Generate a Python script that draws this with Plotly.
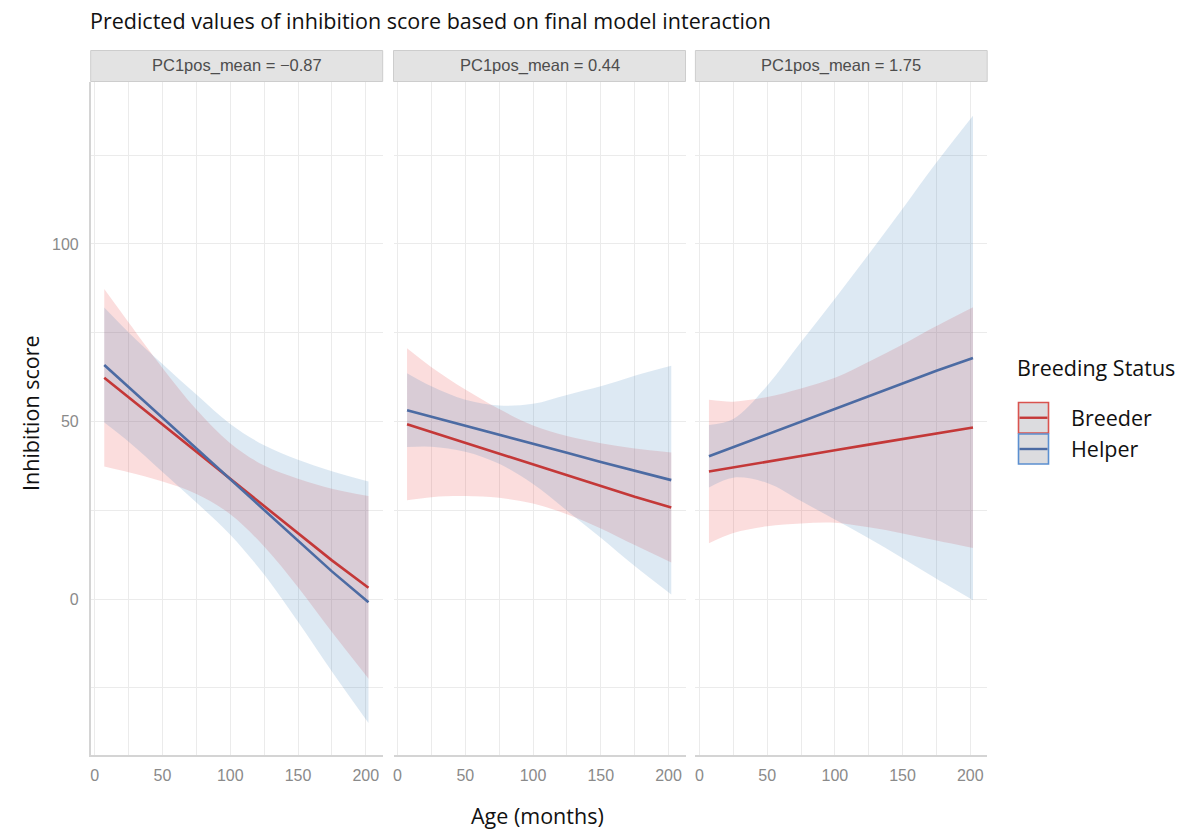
import plotly.graph_objects as go

# ---------------- data ----------------
panels = ["PC1pos_mean = \u22120.87", "PC1pos_mean = 0.44", "PC1pos_mean = 1.75"]
age = [7, 25, 50, 75, 100, 125, 150, 175, 202]

# Panel 1 (PC1pos_mean = -0.87)
p1_breeder = [62.3, 56.8, 49.1, 41.5, 33.9, 26.2, 18.6, 10.9, 3.2]
p1_breeder_lo = [37.3, 35.7, 33.1, 29.6, 23.9, 14.8, 3.3, -9.3, -22.4]
p1_breeder_hi = [87.3, 77.9, 65.1, 53.4, 43.9, 37.6, 33.9, 31.1, 29.0]
p1_helper = [65.9, 59.7, 51.0, 42.4, 33.7, 25.1, 16.4, 7.8, -0.9]
p1_helper_lo = [49.7, 44.3, 35.8, 27.2, 18.1, 6.9, -6.4, -20.4, -34.9]
p1_helper_hi = [82.1, 75.1, 66.2, 57.6, 49.3, 43.3, 39.2, 36.0, 33.1]

# Panel 2 (PC1pos_mean = 0.44)
p2_breeder = [49.2, 47.0, 44.0, 41.0, 37.9, 34.9, 31.9, 28.8, 25.8]
p2_breeder_lo = [27.8, 28.7, 29.0, 28.5, 26.9, 23.9, 19.9, 15.2, 10.3]
p2_breeder_hi = [70.6, 65.3, 59.0, 53.5, 48.9, 45.9, 43.9, 42.4, 41.3]
p2_helper = [53.2, 51.4, 48.8, 46.3, 43.7, 41.2, 38.6, 36.1, 33.5]
p2_helper_lo = [42.8, 42.9, 41.5, 38.1, 32.4, 24.9, 17.3, 9.3, 1.3]
p2_helper_hi = [63.6, 59.9, 56.1, 54.5, 55.0, 57.5, 59.9, 62.9, 65.7]

# Panel 3 (PC1pos_mean = 1.75)
p3_breeder = [35.9, 37.1, 38.7, 40.3, 41.9, 43.5, 45.1, 46.7, 48.3]
p3_breeder_lo = [15.7, 18.6, 20.5, 21.3, 21.5, 20.2, 18.5, 16.5, 14.4]
p3_breeder_hi = [56.1, 55.6, 56.9, 59.3, 62.3, 66.8, 71.7, 76.9, 82.2]
p3_helper = [40.2, 42.8, 46.4, 50.0, 53.5, 57.1, 60.7, 64.3, 67.9]
p3_helper_lo = [31.4, 34.2, 32.7, 27.6, 22.4, 17.1, 11.5, 5.7, -0.3]
p3_helper_hi = [49.0, 50.7, 60.1, 72.4, 84.6, 97.1, 109.9, 122.9, 136.1]

groups = ["Breeder", "Helper"]
x_ticks = [0, 50, 100, 150, 200]
y_ticks = [0, 50, 100]

panel_data = [
    (p1_breeder, p1_breeder_lo, p1_breeder_hi, p1_helper, p1_helper_lo, p1_helper_hi),
    (p2_breeder, p2_breeder_lo, p2_breeder_hi, p2_helper, p2_helper_lo, p2_helper_hi),
    (p3_breeder, p3_breeder_lo, p3_breeder_hi, p3_helper, p3_helper_lo, p3_helper_hi),
]

# ---------------- style ----------------
W, H = 1179, 829
line_col = {"Breeder": "#C43838", "Helper": "#4C6BA3"}
fill_col = {"Breeder": "rgba(228,26,28,0.15)", "Helper": "rgba(55,126,184,0.17)"}
key_col = {"Breeder": "#D9534F", "Helper": "#5B8FD0"}
grid_col = "#EBEBEB"
tick_font = dict(family="Liberation Sans, Arial, sans-serif", size=16, color="#8A8A8A")
text_font = "Open Sans, sans-serif"
text_size = 21.5

# panel pixel extents (left, right), top, bottom
px_panels = [(90.7, 382.7), (393.5, 685.5), (695.4, 987.2)]
py_top, py_bot = 82.0, 755.0
x_range = [-3.0, 212.5]
y_range = [-43.9, 145.6]

def fx(px):
    return px / W

def fy(py):
    return 1 - py / H

fig = go.Figure()

for i, (b, blo, bhi, h, hlo, hhi) in enumerate(panel_data):
    xa = "x" if i == 0 else f"x{i+1}"
    ya = "y" if i == 0 else f"y{i+1}"
    for g, lo, hi in (("Breeder", blo, bhi), ("Helper", hlo, hhi)):
        fig.add_trace(go.Scatter(x=age, y=hi, mode="lines", line=dict(width=0, shape="spline", smoothing=1),
                                 xaxis=xa, yaxis=ya, showlegend=False, hoverinfo="skip"))
        fig.add_trace(go.Scatter(x=age, y=lo, mode="lines", line=dict(width=0, shape="spline", smoothing=1),
                                 fill="tonexty", fillcolor=fill_col[g],
                                 xaxis=xa, yaxis=ya, showlegend=False, hoverinfo="skip"))
    for g, vals in (("Breeder", b), ("Helper", h)):
        fig.add_trace(go.Scatter(x=age, y=vals, mode="lines", name=g,
                                 line=dict(color=line_col[g], width=2.6),
                                 xaxis=xa, yaxis=ya, showlegend=False))

layout = dict(
    width=W, height=H,
    margin=dict(l=0, r=0, t=0, b=0),
    paper_bgcolor="white", plot_bgcolor="white",
    showlegend=False,
)

for i, (l, r) in enumerate(px_panels):
    xk = "xaxis" if i == 0 else f"xaxis{i+1}"
    yk = "yaxis" if i == 0 else f"yaxis{i+1}"
    layout[xk] = dict(
        domain=[fx(l), fx(r)], range=x_range, anchor="y" if i == 0 else f"y{i+1}",
        tickvals=x_ticks, ticktext=[str(v) for v in x_ticks],
        showgrid=True, gridcolor=grid_col, gridwidth=1,
        minor=dict(tickvals=[25, 75, 125, 175], showgrid=True, gridcolor=grid_col, gridwidth=1),
        zeroline=False, showline=True, linecolor="#D4D4D4", linewidth=1.5,
        ticks="", tickfont=tick_font, ticklabelstandoff=5,
    )
    layout[yk] = dict(
        domain=[fy(py_bot), fy(py_top)], range=y_range, anchor="x" if i == 0 else f"x{i+1}",
        tickvals=y_ticks, ticktext=[str(v) for v in y_ticks] if i == 0 else ["", "", ""],
        showticklabels=(i == 0),
        showgrid=True, gridcolor=grid_col, gridwidth=1,
        minor=dict(tickvals=[-25, 25, 75, 125], showgrid=True, gridcolor=grid_col, gridwidth=1),
        zeroline=False, showline=(i == 0), linecolor="#D4D4D4", linewidth=1.5,
        ticks="", tickfont=tick_font, ticklabelstandoff=7,
    )

shapes = []
annotations = []

# strips
for (l, r), lab in zip(px_panels, panels):
    shapes.append(dict(type="rect", xref="paper", yref="paper",
                       x0=fx(l), x1=fx(r), y0=fy(81.5), y1=fy(50.5),
                       fillcolor="#E3E3E3", line=dict(color="#CDCDCD", width=1)))
    annotations.append(dict(text=lab, xref="paper", yref="paper", x=fx((l + r) / 2), y=fy(66),
                            xanchor="center", yanchor="middle", showarrow=False,
                            font=dict(family="Liberation Sans, Arial, sans-serif", size=16.5, color="#4D4D4D")))

# title
annotations.append(dict(text="Predicted values of inhibition score based on final model interaction",
                        xref="paper", yref="paper", x=fx(88), y=fy(20), xanchor="left", yanchor="middle",
                        showarrow=False, font=dict(family=text_font, size=text_size, color="#111111")))
# axis titles
annotations.append(dict(text="Age (months)", xref="paper", yref="paper", x=fx(537), y=fy(815),
                        xanchor="center", yanchor="middle", showarrow=False,
                        font=dict(family=text_font, size=text_size, color="#111111")))
annotations.append(dict(text="Inhibition score", xref="paper", yref="paper", x=fx(30), y=fy(413),
                        xanchor="center", yanchor="middle", showarrow=False, textangle=-90,
                        font=dict(family=text_font, size=text_size, color="#111111")))

# legend
annotations.append(dict(text="Breeding Status", xref="paper", yref="paper", x=fx(1015), y=fy(368),
                        xanchor="left", yanchor="middle", showarrow=False,
                        font=dict(family=text_font, size=text_size, color="#111111")))
key_rows = [("Breeder", 402.5, 433.0), ("Helper", 434.0, 464.0)]
for g, t, b in key_rows:
    shapes.append(dict(type="rect", xref="paper", yref="paper", x0=fx(1018.5), x1=fx(1048.5),
                       y0=fy(b), y1=fy(t), fillcolor="#DCDCDF", line=dict(color=key_col[g], width=1.6)))
    shapes.append(dict(type="line", xref="paper", yref="paper", x0=fx(1019.5), x1=fx(1047.5),
                       y0=fy((t + b) / 2), y1=fy((t + b) / 2), line=dict(color=line_col[g], width=2.4)))
    annotations.append(dict(text=g, xref="paper", yref="paper", x=fx(1069), y=fy((t + b) / 2),
                            xanchor="left", yanchor="middle", showarrow=False,
                            font=dict(family=text_font, size=text_size, color="#111111")))

layout["shapes"] = shapes
layout["annotations"] = annotations
fig.update_layout(**layout)

fig.write_html("out.html")
